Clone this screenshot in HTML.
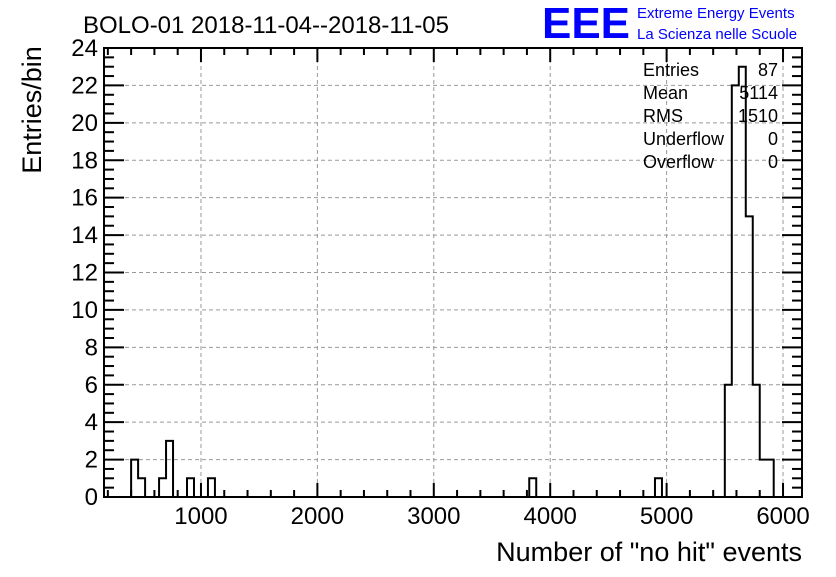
<!DOCTYPE html>
<html><head><meta charset="utf-8"><style>
body{margin:0;background:#fff;}
svg text{font-family:"Liberation Sans",sans-serif;}
</style></head><body>
<svg width="836" height="572" xmlns="http://www.w3.org/2000/svg">
<rect width="836" height="572" fill="#fff"/>
<g id="grid"></g>
<g id="hist"></g>
<rect x="104" y="48" width="698" height="449" fill="none" stroke="#000" stroke-width="2"/>
<g id="axes"></g>
<text x="83" y="33" font-size="24">BOLO-01 2018-11-04--2018-11-05</text>
<text x="542" y="38" font-size="44" font-weight="bold" fill="#0000ff" textLength="88" lengthAdjust="spacingAndGlyphs">EEE</text>
<text x="637" y="18" font-size="15" fill="#0000ff">Extreme Energy Events</text>
<text x="637" y="39" font-size="15" fill="#0000ff">La Scienza nelle Scuole</text>
<text x="0" y="0" font-size="27" text-anchor="middle" transform="translate(41 110) rotate(-90)">Entries/bin</text>
<text x="802" y="561" font-size="27" text-anchor="end">Number of "no hit" events</text>
<g font-size="18">
<text x="643" y="76">Entries</text><text x="778" y="76" text-anchor="end">87</text>
<text x="643" y="99">Mean</text><text x="778" y="99" text-anchor="end">5114</text>
<text x="643" y="122">RMS</text><text x="778" y="122" text-anchor="end">1510</text>
<text x="643" y="145">Underflow</text><text x="778" y="145" text-anchor="end">0</text>
<text x="643" y="168">Overflow</text><text x="778" y="168" text-anchor="end">0</text>
</g>
</svg>
<script>
const binStarts=[400,460,640,700,880,1060,3820,4900,5500,5560,5620,5680,5740,5800,5860];
const binCounts=[2,1,1,3,1,1,1,1,6,22,23,15,6,2,2];
const binWidth=60;
const xTicks=[1000,2000,3000,4000,5000,6000];
const yTicks=[0,2,4,6,8,10,12,14,16,18,20,22,24];
const X0=104,X1=802,Y0=497,Y1=48,xmin=167,xmax=6163,ymax=24;
const sx=v=>X0+(v-xmin)/(xmax-xmin)*(X1-X0);
const sy=v=>Y0-v/ymax*(Y0-Y1);
const NS="http://www.w3.org/2000/svg";
function mk(t,a,p){const e=document.createElementNS(NS,t);for(const k in a)e.setAttribute(k,a[k]);p.appendChild(e);return e;}
const grid=document.getElementById('grid'),axes=document.getElementById('axes'),hist=document.getElementById('hist');
xTicks.forEach(v=>{const l=mk('line',{x1:sx(v),x2:sx(v),y1:Y0,y2:Y1,stroke:'#999','stroke-dasharray':'4,3'},grid);

const t=mk('text',{x:sx(v),y:524,'font-size':24,'text-anchor':'middle'},axes);t.textContent=v;
});
yTicks.forEach(v=>{if(v>0&&v<24){const l=mk('line',{x1:X0,x2:X1,y1:sy(v),y2:sy(v),stroke:'#999','stroke-dasharray':'4,3'},grid);
}
const t=mk('text',{x:98,y:sy(v)+8,'font-size':24,'text-anchor':'end'},axes);t.textContent=v;
});
for(let v=200;v<=6000;v+=200){const big=v%1000==0;const h=big?14:7;
mk('line',{x1:sx(v),x2:sx(v),y1:Y0,y2:Y0-h,stroke:'#000','stroke-width':2},axes);
mk('line',{x1:sx(v),x2:sx(v),y1:Y1,y2:Y1+h,stroke:'#000','stroke-width':2},axes);}
for(let v=0.5;v<24;v+=0.5){const big=v%2==0;const h=big?20:10;
mk('line',{x1:X0,x2:X0+h,y1:sy(v),y2:sy(v),stroke:'#000','stroke-width':2},axes);
mk('line',{x1:X1,x2:X1-h,y1:sy(v),y2:sy(v),stroke:'#000','stroke-width':2},axes);}
let d='';let prevEnd=null;
binStarts.forEach((s,i)=>{const c=binCounts[i];
if(prevEnd!==null&&Math.abs(prevEnd-s)<1e-6){d+=`V${sy(c)}H${sx(s+binWidth)}`;}
else{if(prevEnd!==null)d+=`V${Y0}`;d+=`M${sx(s)},${Y0}V${sy(c)}H${sx(s+binWidth)}`;}
prevEnd=s+binWidth;});
d+=`V${Y0}`;
const p=mk('path',{d:d,fill:'none',stroke:'#000','stroke-width':2},hist);

</script>
</body></html>
